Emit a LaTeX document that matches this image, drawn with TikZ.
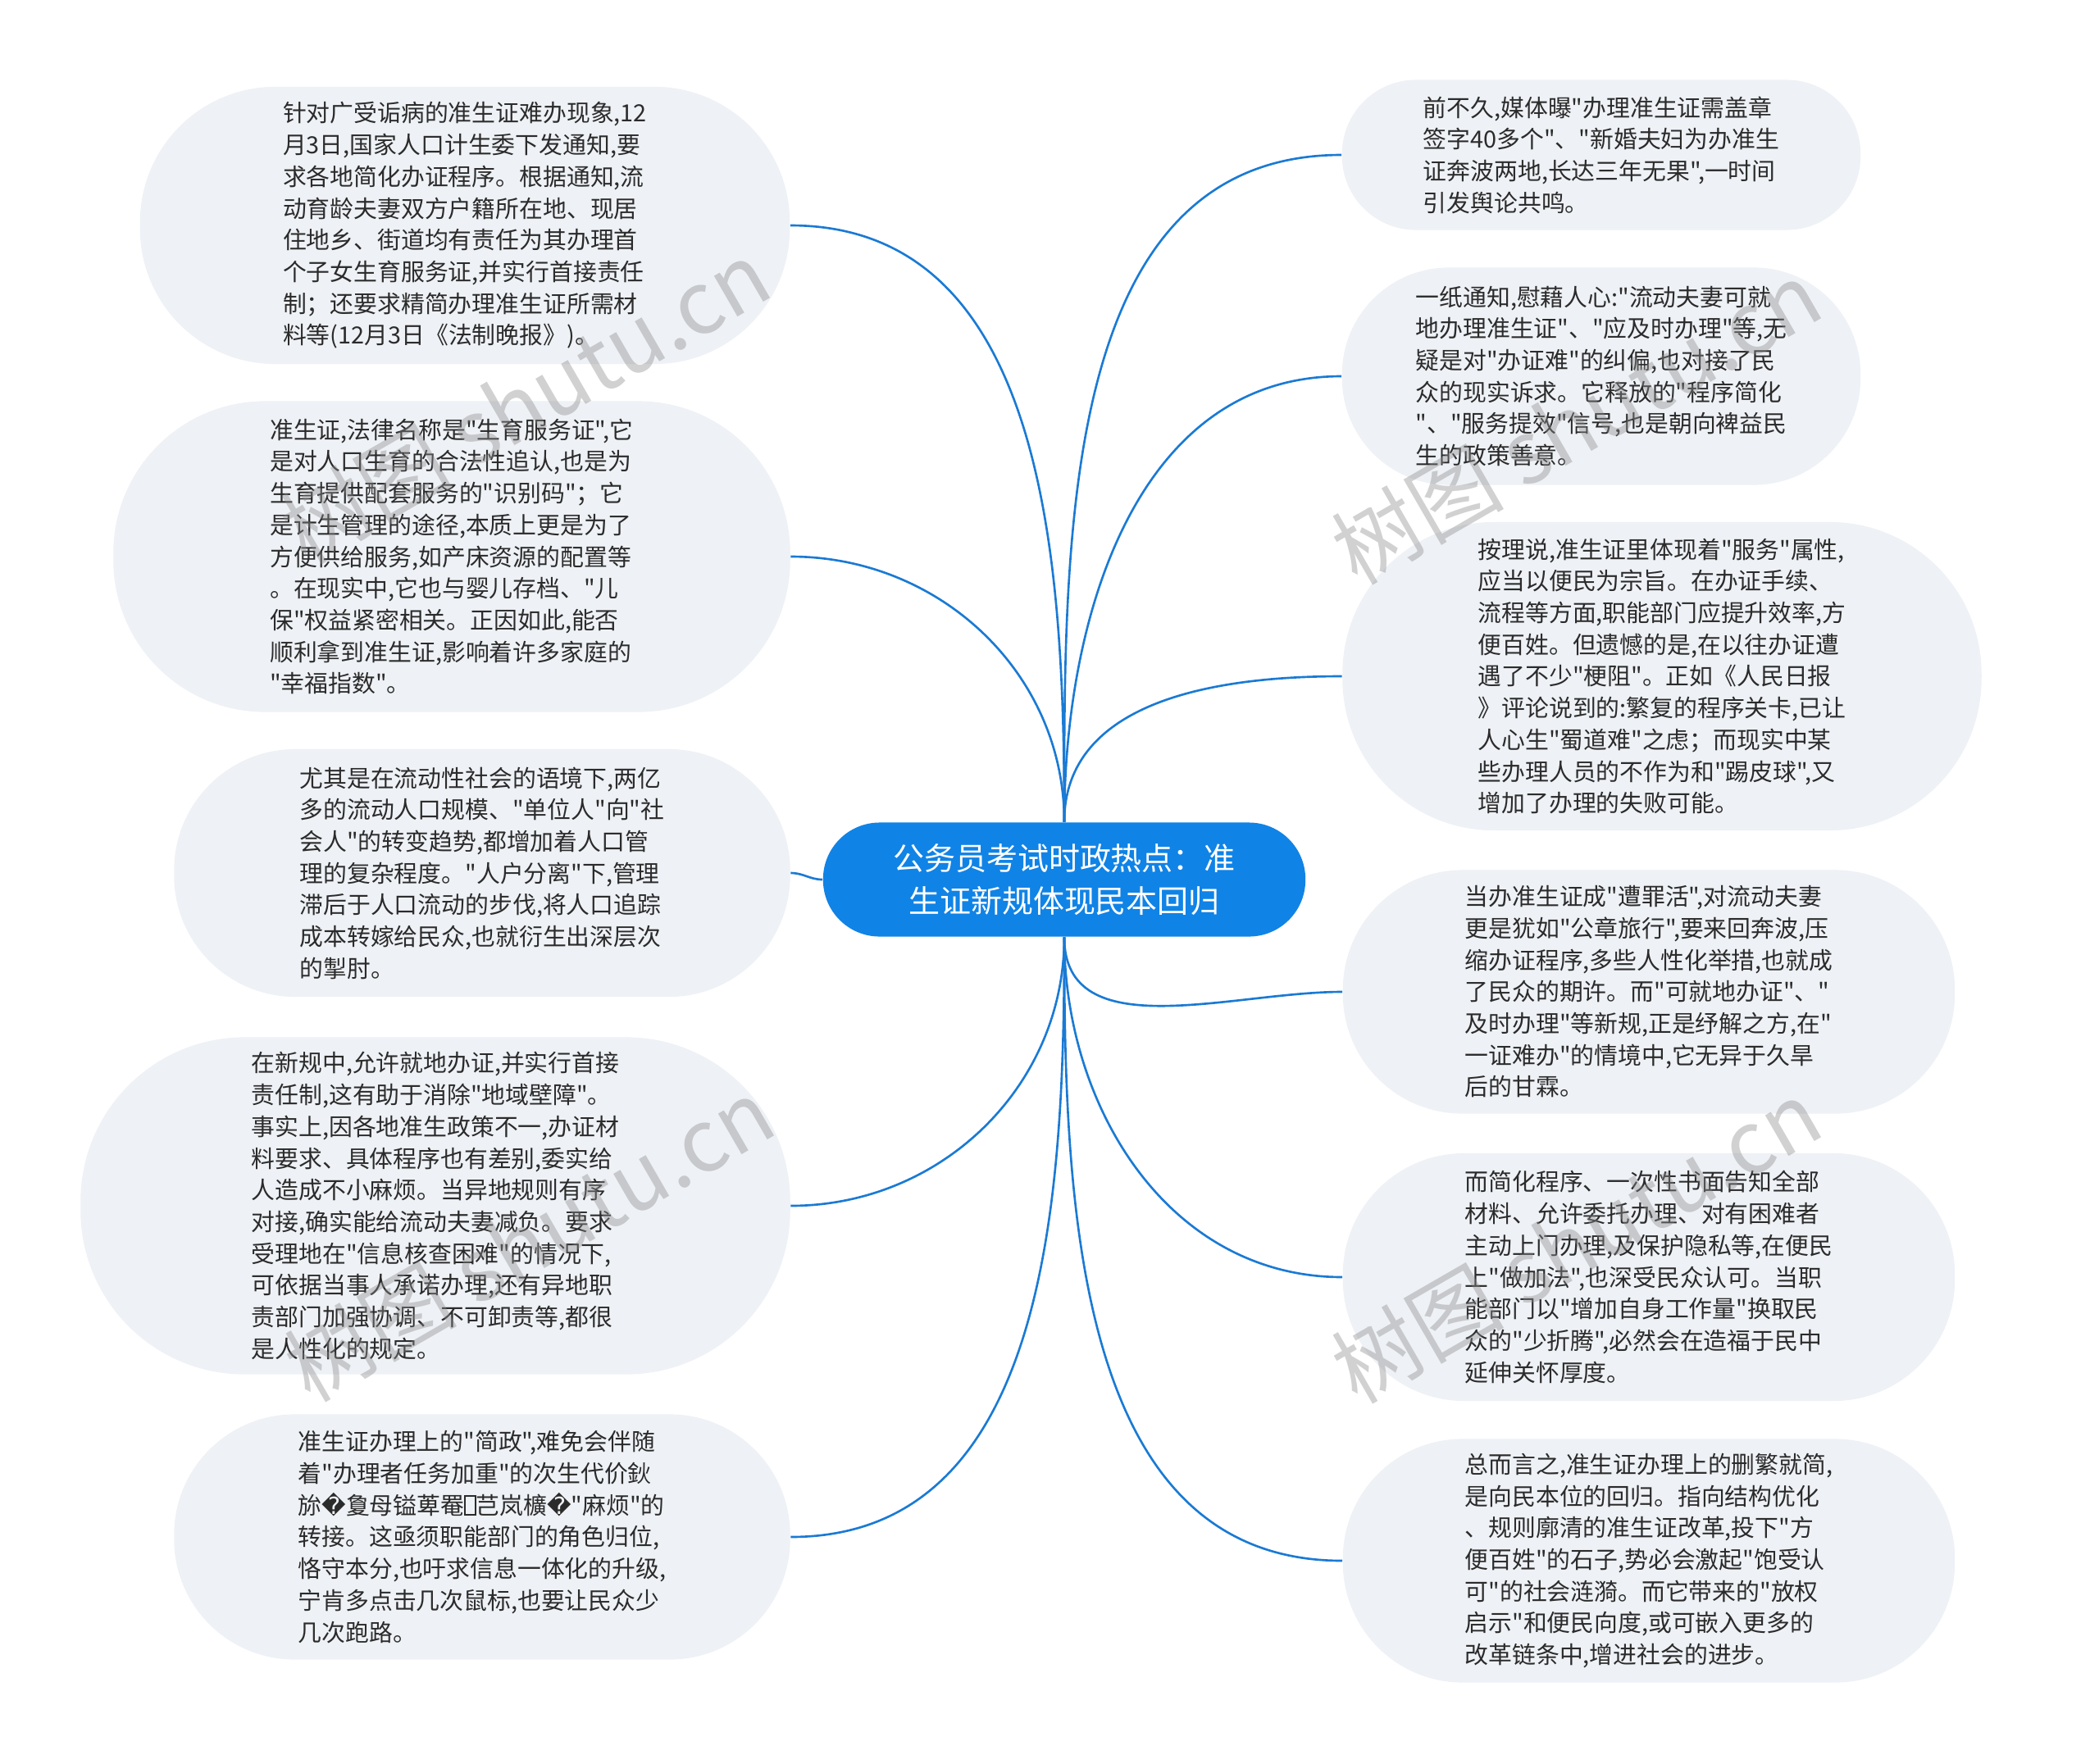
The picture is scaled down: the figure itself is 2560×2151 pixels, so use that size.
\documentclass[tikz,border=0pt]{standalone}
\usepackage{fontspec}
\setmainfont{Noto Sans CJK SC}[Ligatures=TeXOff]
\newfontfamily\dejavu{DejaVu Sans}
\usepackage{xcolor}
\usepackage{tikz}
\definecolor{hubblue}{HTML}{1083E6}
\definecolor{linkblue}{HTML}{1A7AD4}
\definecolor{cardgray}{HTML}{EEF1F5}
\definecolor{inkgray}{HTML}{2B2B2B}
\newcommand{\badch}{{\dejavu\symbol{"FFFD}}}
\newcommand{\tofu}{{\setlength{\fboxsep}{0pt}\setlength{\fboxrule}{0.4pt}\fbox{\rule{0pt}{0.75em}\hspace{0.4em}}}}

\begin{document}
\begin{tikzpicture}[x=0.01cm,y=0.01cm,
	card/.style={fill=cardgray,text=inkgray,inner sep=0pt,align=left,font=\fontsize{8.2}{11}\selectfont},
	hub/.style={fill=hubblue,text=white,inner sep=0pt,align=center,font=\fontsize{10.8}{14.8}\selectfont},
	link/.style={draw=linkblue,line width=0.75pt},
	wmark/.style={rotate=30,text=black!45,opacity=0.4,font=\fontsize{30}{30}\selectfont}]
				\fill[white] (0,0) rectangle (2560,-2151);
				\useasboundingbox (0,0) rectangle (2560,-2151);
				
				\node[hub,minimum width=5.88cm,minimum height=1.39cm,rounded corners=0.69cm] (ctr) at (1298,-1073) {公务员考试时政热点：准\\生证新规体现民本回归};
				
				\node[card,minimum width=7.92cm,minimum height=3.38cm,rounded corners=1.65cm] (l1) at (567,-275) {针对广受诟病的准生证难办现象,12\\月3日,国家人口计生委下发通知,要\\求各地简化办证程序。根据通知,流\\动育龄夫妻双方户籍所在地、现居\\住地乡、街道均有责任为其办理首\\个子女生育服务证,并实行首接责任\\制；还要求精简办理准生证所需材\\料等(12月3日《法制晚报》)。};
				\node[card,minimum width=8.25cm,minimum height=3.79cm,rounded corners=1.85cm] (l2) at (551,-679) {准生证,法律名称是"生育服务证",它\\是对人口生育的合法性追认,也是为\\生育提供配套服务的"识别码"；它\\是计生管理的途径,本质上更是为了\\方便供给服务,如产床资源的配置等\\。在现实中,它也与婴儿存档、"儿\\保"权益紧密相关。正因如此,能否\\顺利拿到准生证,影响着许多家庭的\\"幸福指数"。};
				\node[card,minimum width=7.51cm,minimum height=3.02cm,rounded corners=1.48cm] (l3) at (588,-1065) {尤其是在流动性社会的语境下,两亿\\多的流动人口规模、"单位人"向"社\\会人"的转变趋势,都增加着人口管\\理的复杂程度。"人户分离"下,管理\\滞后于人口流动的步伐,将人口追踪\\成本转嫁给民众,也就衍生出深层次\\的掣肘。};
				\node[card,minimum width=8.65cm,minimum height=4.11cm,rounded corners=2cm] (l4) at (531,-1471) {在新规中,允许就地办证,并实行首接\\责任制,这有助于消除"地域壁障"。\\事实上,因各地准生政策不一,办证材\\料要求、具体程序也有差别,委实给\\人造成不小麻烦。当异地规则有序\\对接,确实能给流动夫妻减负。要求\\受理地在"信息核查困难"的情况下,\\可依据当事人承诺办理,还有异地职\\责部门加强协调、不可卸责等,都很\\是人性化的规定。};
				\node[card,minimum width=7.51cm,minimum height=2.99cm,rounded corners=1.47cm] (l5) at (588,-1875) {准生证办理上的"简政",难免会伴随\\着"办理者任务加重"的次生代价鈥\\旀\badch 夐母镒萆罨\tofu 芑岚櫎\badch "麻烦"的\\转接。这亟须职能部门的角色归位,\\恪守本分,也吁求信息一体化的升级,\\宁肯多点击几次鼠标,也要让民众少\\几次跑路。};
				
				\node[card,minimum width=6.32cm,minimum height=1.83cm,rounded corners=0.9cm] (r1) at (1953,-189) {前不久,媒体曝"办理准生证需盖章\\签字40多个"、"新婚夫妇为办准生\\证奔波两地,长达三年无果",一时间\\引发舆论共鸣。};
				\node[card,minimum width=6.32cm,minimum height=2.65cm,rounded corners=1.3cm] (r2) at (1953,-459) {一纸通知,慰藉人心:"流动夫妻可就\\地办理准生证"、"应及时办理"等,无\\疑是对"办证难"的纠偏,也对接了民\\众的现实诉求。它释放的"程序简化\\"、"服务提效"信号,也是朝向裨益民\\生的政策善意。};
				\node[card,minimum width=7.79cm,minimum height=3.76cm,rounded corners=1.85cm] (r3) at (2027,-825) {按理说,准生证里体现着"服务"属性,\\应当以便民为宗旨。在办证手续、\\流程等方面,职能部门应提升效率,方\\便百姓。但遗憾的是,在以往办证遭\\遇了不少"梗阻"。正如《人民日报\\》评论说到的:繁复的程序关卡,已让\\人心生"蜀道难"之虑；而现实中某\\些办理人员的不作为和"踢皮球",又\\增加了办理的失败可能。};
				\node[card,minimum width=7.46cm,minimum height=2.97cm,rounded corners=1.46cm] (r4) at (2011,-1210) {当办准生证成"遭罪活",对流动夫妻\\更是犹如"公章旅行",要来回奔波,压\\缩办证程序,多些人性化举措,也就成\\了民众的期许。而"可就地办证"、"\\及时办理"等新规,正是纾解之方,在"\\一证难办"的情境中,它无异于久旱\\后的甘霖。};
				\node[card,minimum width=7.46cm,minimum height=3.02cm,rounded corners=1.48cm] (r5) at (2011,-1558) {而简化程序、一次性书面告知全部\\材料、允许委托办理、对有困难者\\主动上门办理,及保护隐私等,在便民\\上"做加法",也深受民众认可。当职\\能部门以"增加自身工作量"换取民\\众的"少折腾",必然会在造福于民中\\延伸关怀厚度。};
				\node[card,minimum width=7.46cm,minimum height=2.97cm,rounded corners=1.46cm] (r6) at (2011,-1904) {总而言之,准生证办理上的删繁就简,\\是向民本位的回归。指向结构优化\\、规则廓清的准生证改革,投下"方\\便百姓"的石子,势必会激起"饱受认\\可"的社会涟漪。而它带来的"放权\\启示"和便民向度,或可嵌入更多的\\改革链条中,增进社会的进步。};
				
				\draw[link] (ctr.north) to[out=90,in=0] (l1.east);
				\draw[link] (ctr.north) to[out=90,in=0] (l2.east);
				\draw[link] (ctr.west) to[out=180,in=0] (l3.east);
				\draw[link] (ctr.south) to[out=-90,in=0] (l4.east);
				\draw[link] (ctr.south) to[out=-90,in=0] (l5.east);
				
				\draw[link] (ctr.north) to[out=90,in=180] (r1.west);
				\draw[link] (ctr.north) to[out=90,in=180] (r2.west);
				\draw[link] (ctr.north) to[out=90,in=180] (r3.west);
				\draw[link] (ctr.south) to[out=-90,in=180] (r4.west);
				\draw[link] (ctr.south) to[out=-90,in=180] (r5.west);
				\draw[link] (ctr.south) to[out=-90,in=180] (r6.west);
				
				\node[wmark] (wm1) at (640,-490) {树图 shutu.cn};
				\node[wmark] (wm2) at (1922,-515) {树图 shutu.cn};
				\node[wmark] (wm3) at (645,-1512) {树图 shutu.cn};
				\node[wmark] (wm4) at (1922,-1514) {树图 shutu.cn};
\end{tikzpicture}
\end{document}
